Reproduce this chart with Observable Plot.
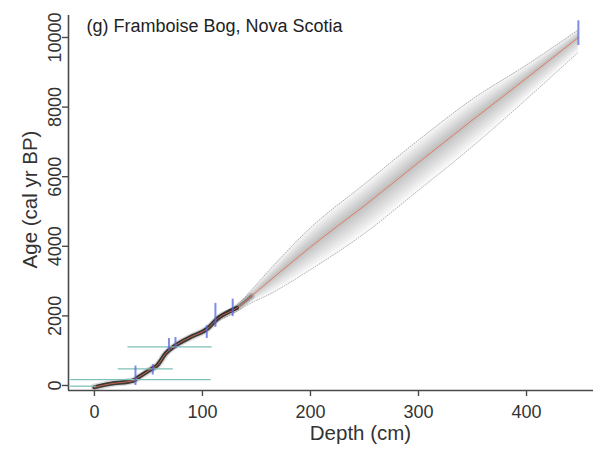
<!DOCTYPE html>
<html>
<head>
<meta charset="utf-8">
<script src="https://cdn.jsdelivr.net/npm/d3@7"></script>
<script src="https://cdn.jsdelivr.net/npm/@observablehq/plot@0.6"></script>
<style>
  html, body { margin: 0; padding: 0; background: #fff; }
  #chart { width: 601px; height: 454px; }
</style>
</head>
<body>
<div id="chart"></div>
<script>
// Age-depth model: depth (cm), median age and 95% envelope (cal yr BP)
const depth     = [0, 15, 36, 41, 52, 58, 66, 75, 89, 105, 114, 132, 145, 160, 200, 250, 300, 350, 400, 448];
const ageMedian = [-50, 50, 140, 240, 460, 575, 920, 1150, 1390, 1640, 1920, 2230, 2560, 2950, 3980, 5170, 6410, 7630, 8830, 10000];
const ageMin    = [-90, 10, 90, 185, 400, 515, 850, 1080, 1320, 1560, 1840, 2140, 2370, 2590, 3330, 4370, 5610, 6870, 8230, 9580];
const ageMax    = [-10, 90, 190, 295, 520, 635, 990, 1220, 1460, 1720, 2000, 2310, 2730, 3250, 4530, 5790, 7050, 8230, 9210, 10220];

// Calibrated dates (blue)
const dateDepth = [38, 54, 69, 75, 104, 112, 128, 448];
const dateAgeLo = [0, 300, 1000, 1050, 1350, 1670, 1980, 9770];
const dateAgeHi = [560, 600, 1350, 1380, 1720, 2360, 2480, 10480];

// Horizontal (teal) ranges
const hAge       = [1110, 480, 170, -20];
const hDepthFrom = [31, 22, -22, -22];
const hDepthTo   = [109, 73, 108, 2];

const xTicks = [0, 100, 200, 300, 400];
const yTicks = [0, 2000, 4000, 6000, 8000, 10000];
const xDomain = [-24, 462];
const yDomain = [-144, 10632];

const titleText = "(g) Framboise Bog, Nova Scotia";
const xLabel = "Depth (cm)";
const yLabel = "Age (cal yr BP)";

const rows = depth.map((d, i) => ({depth: d, med: ageMedian[i], lo: ageMin[i], hi: ageMax[i]}));
const dates = dateDepth.map((d, i) => ({depth: d, lo: dateAgeLo[i], hi: dateAgeHi[i]}));
const hlines = hAge.map((a, i) => ({age: a, x1: hDepthFrom[i], x2: hDepthTo[i]}));

const bandFrac = [1, 0.87, 0.74, 0.61, 0.48, 0.36, 0.24, 0.12];
const bands = bandFrac.map(f => Plot.areaY(rows, {
  x: "depth",
  y1: d => d.med + f * (d.lo - d.med),
  y2: d => d.med + f * (d.hi - d.med),
  fill: "#000", fillOpacity: 0.032, curve: "monotone-x"
}));

const font = "Liberation Sans, Arial, Helvetica, sans-serif";
const axisColor = "#4a4a4a";

const chart = Plot.plot({
  width: 601,
  height: 454,
  marginLeft: 68,
  marginRight: 8,
  marginTop: 15,
  marginBottom: 64,
  style: {fontFamily: font, background: "#fff", color: "#222"},
  x: {domain: xDomain},
  y: {domain: yDomain},
  marks: [
    ...bands,
    Plot.line(rows.filter(d => d.depth >= 114), {x: "depth", y: "lo", stroke: "#9a9a9a", strokeWidth: 0.8, strokeDasharray: "1,1.6", curve: "monotone-x"}),
    Plot.line(rows.filter(d => d.depth >= 114), {x: "depth", y: "hi", stroke: "#9a9a9a", strokeWidth: 0.8, strokeDasharray: "1,1.6", curve: "monotone-x"}),
    Plot.line(rows.filter(d => d.depth <= 145), {x: "depth", y: "med", stroke: "#000", strokeWidth: 7, strokeOpacity: 0.15, curve: "monotone-x"}),
    Plot.line(rows.filter(d => d.depth <= 132), {x: "depth", y: "med", stroke: "#111", strokeWidth: 4.2, strokeOpacity: 0.78, curve: "monotone-x"}),
    Plot.line(rows.filter(d => d.depth >= 114 && d.depth <= 145), {x: "depth", y: "med", stroke: "#111", strokeWidth: 3, strokeOpacity: 0.3, curve: "monotone-x"}),
    Plot.ruleY(hlines, {y: "age", x1: "x1", x2: "x2", stroke: "#7fc0b8", strokeWidth: 1.3}),
    Plot.line(rows, {x: "depth", y: "med", stroke: "#e5704f", strokeWidth: 1, strokeOpacity: 0.85, curve: "monotone-x"}),
    Plot.ruleX(dates, {x: "depth", y1: "lo", y2: "hi", stroke: "#5566e0", strokeWidth: 2, strokeOpacity: 0.75}),
    // axes
    Plot.ruleX([xDomain[0]], {stroke: axisColor, strokeWidth: 1.6}),
    Plot.ruleY([yDomain[0]], {stroke: axisColor, strokeWidth: 1.6}),
    Plot.axisX({ticks: xTicks, tickSize: 6, tickPadding: 9, fontSize: 18, label: null, stroke: axisColor, strokeWidth: 1.4, color: "#333"}),
    Plot.axisY({ticks: yTicks, tickSize: 6, tickFormat: () => "", label: null, stroke: axisColor, strokeWidth: 1.4}),
    Plot.text(yTicks, {frameAnchor: "left", y: d => d, text: d => String(d), rotate: -90, dx: -13, textAnchor: "middle", lineAnchor: "middle", fontSize: 18, fill: "#333"}),
    Plot.text([xLabel], {frameAnchor: "bottom", text: d => d, dx: 29.5, dy: 43.4, textAnchor: "middle", lineAnchor: "middle", fontSize: 20.5, fill: "#333"}),
    Plot.text([yLabel], {frameAnchor: "left", text: d => d, rotate: -90, dx: -37.6, dy: -3.5, textAnchor: "middle", lineAnchor: "middle", fontSize: 20.5, fill: "#333"}),
    Plot.text([titleText], {frameAnchor: "top-left", text: d => d, dx: 18, dy: 4.2, textAnchor: "start", lineAnchor: "top", fontSize: 18, fill: "#222"})
  ]
});
document.getElementById("chart").appendChild(chart);
</script>
</body>
</html>
